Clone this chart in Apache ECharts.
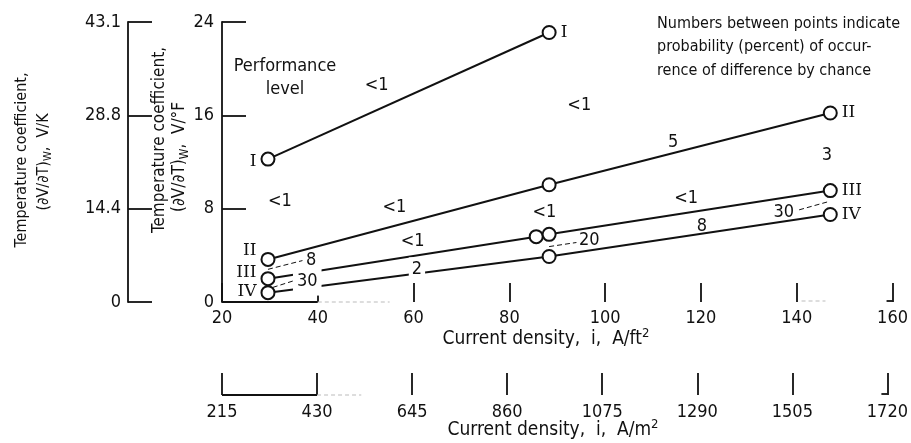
<!DOCTYPE html>
<html>
<head>
<meta charset="utf-8">
<script src="https://cdn.jsdelivr.net/npm/echarts@6/dist/echarts.min.js"></script>
<style>
  html, body { margin: 0; padding: 0; background: #fff; }
  #chart { width: 911px; height: 443px; }
</style>
</head>
<body>
<div id="chart"></div>
<script>
// Performance levels and their measured temperature coefficients
const levels = ['I', 'II', 'III', 'IV'];
// current density, A/ft^2
const densityI = [29.6, 88.3];
const densityII = [29.6, 88.3, 147.0];
const densityIII = [29.6, 85.6, 88.3, 147.0];
const densityIV = [29.6, 88.3, 147.0];
// temperature coefficient, V/°F
const coeffI = [12.25, 23.1];
const coeffII = [3.65, 10.05, 16.2];
const coeffIII = [2.0, 5.6, 5.8, 9.55];
const coeffIV = [0.8, 3.9, 7.5];

// tick labels of the secondary scales
const vkTickLabels = ['0', '14.4', '28.8', '43.1'];
const m2TickLabels = ['215', '430', '645', '860', '1075', '1290', '1505', '1720'];

// probability (percent) that a difference occurs by chance
const probText = ['<1', '<1', '<1', '<1', '<1', '<1', '<1', '5', '3', '8', '8', '30', '2', '20', '30'];

const FONT = "'DejaVu Sans Condensed','Liberation Sans Narrow','Arial Narrow',sans-serif";
const SERIF = "'DejaVu Serif','Liberation Serif',serif";
const INK = '#111';

// where each probability note sits, in (A/ft^2, V/°F) coordinates
const probAt = [
  [52.3, 18.6], [94.6, 16.9], [32.1, 8.6], [56.0, 8.1], [87.3, 7.7],
  [59.8, 5.2], [116.9, 8.9], [114.2, 13.7], [146.3, 12.6], [120.2, 6.5],
  [38.6, 3.55], [37.8, 1.75], [60.7, 2.8], [96.7, 5.3], [137.3, 7.7]
];
// notes that sit on a line and interrupt it
const knockOut = { 11: [7, 4, 3, 4], 12: [4, 3, 2, 3] };

// dashed leaders from a gap between two points to its note
const leaders = [
  [[29.6, 2.8], [36.8, 3.55]],
  [[30.6, 1.25], [35.2, 1.85]],
  [[88.3, 4.75], [94.0, 5.1]],
  [[140.5, 7.9], [146.6, 8.6]]
];

const labelShift = { I: [0, 2], II: [0, -9], III: [0, -6], IV: [0, -1] };

function buildPoints(xs, ys, name) {
  return xs.map(function (x, i) {
    const item = { value: [x, ys[i]] };
    if (i === 0 || i === xs.length - 1) {
      item.label = {
        show: true,
        position: i === 0 ? 'left' : 'right',
        distance: 4,
        offset: i === 0 ? labelShift[name] : [0, 0],
        formatter: name,
        fontFamily: SERIF,
        fontSize: 17,
        color: INK
      };
    }
    return item;
  });
}

const levelSeries = [
  [densityI, coeffI], [densityII, coeffII], [densityIII, coeffIII], [densityIV, coeffIV]
].map(function (pair, k) {
  return {
    type: 'line',
    name: levels[k],
    xAxisIndex: 0,
    yAxisIndex: 0,
    data: buildPoints(pair[0], pair[1], levels[k]),
    symbol: 'emptyCircle',
    symbolSize: 13,
    showSymbol: true,
    lineStyle: { color: INK, width: 2 },
    itemStyle: { color: INK, borderColor: INK, borderWidth: 1.8 },
    z: 3
  };
});

const leaderSeries = leaders.map(function (seg) {
  return {
    type: 'line',
    xAxisIndex: 0,
    yAxisIndex: 0,
    data: seg,
    symbol: 'none',
    silent: true,
    lineStyle: { color: INK, width: 1, type: [5, 3] },
    z: 2
  };
});

const probSeries = {
  type: 'scatter',
  xAxisIndex: 0,
  yAxisIndex: 0,
  symbolSize: 1,
  itemStyle: { color: 'rgba(0,0,0,0)', opacity: 1 },
  silent: true,
  z: 6,
  data: probText.map(function (t, i) {
    const item = { name: t, value: probAt[i] };
    if (knockOut[i]) {
      item.label = { backgroundColor: '#fff', padding: knockOut[i] };
    }
    return item;
  }),
  label: {
    show: true,
    position: 'inside',
    formatter: function (p) { return p.name; },
    fontFamily: FONT,
    fontSize: 18,
    color: INK
  }
};

const axisText = { fontFamily: FONT, fontSize: 18, color: INK };

const chart = echarts.init(document.getElementById('chart'), null, { renderer: 'canvas' });

chart.setOption({
  animation: false,
  backgroundColor: '#fff',
  grid: [
    { left: 222, right: 18, top: 22, height: 280 },
    { left: 222, right: 18, top: 394, height: 1 }
  ],
  xAxis: [
    {
      type: 'value', gridIndex: 0, min: 20, max: 160, interval: 20,
      axisLine: { show: false },
      axisTick: { show: true, inside: true, length: 19, lineStyle: { color: INK, width: 1.8 } },
      axisLabel: Object.assign({ margin: 7 }, axisText),
      splitLine: { show: false }
    },
    {
      type: 'value', gridIndex: 1, min: 215, max: 1720, interval: 215,
      axisLine: { show: false },
      axisTick: { show: true, inside: true, length: 22, lineStyle: { color: INK, width: 1.8 } },
      axisLabel: Object.assign({
        margin: 8,
        formatter: function (v, i) { return m2TickLabels[i]; }
      }, axisText),
      splitLine: { show: false }
    }
  ],
  yAxis: [
    {
      type: 'value', gridIndex: 0, min: 0, max: 24, interval: 8,
      axisLine: { show: true, lineStyle: { color: INK, width: 1.8 } },
      axisTick: { show: true, inside: true, length: 24, lineStyle: { color: INK, width: 1.8 } },
      axisLabel: Object.assign({ margin: 8 }, axisText),
      splitLine: { show: false }
    },
    {
      type: 'value', gridIndex: 0, position: 'left', offset: 94,
      min: 0, max: 43.2, interval: 14.4,
      axisLine: { show: true, lineStyle: { color: INK, width: 1.8 } },
      axisTick: { show: true, inside: true, length: 24, lineStyle: { color: INK, width: 1.8 } },
      axisLabel: Object.assign({
        margin: 7,
        formatter: function (v, i) { return vkTickLabels[i]; }
      }, axisText),
      splitLine: { show: false }
    },
    { type: 'value', gridIndex: 1, min: 0, max: 1, show: false }
  ],
  series: levelSeries.concat(leaderSeries, [probSeries])
});

// Axis base lines (only partly printed), axis titles and notes
const px = function (x, y) { return chart.convertToPixel({ xAxisIndex: 0, yAxisIndex: 0 }, [x, y]); };
const mx = function (x) { return chart.convertToPixel({ xAxisIndex: 1 }, x); };
const y0 = px(20, 0)[1];
const yM = chart.convertToPixel({ yAxisIndex: 2 }, 0);

function seg(x1, y1, x2, y2, faint) {
  return {
    type: 'line',
    shape: { x1: x1, y1: y1, x2: x2, y2: y2 },
    style: faint
      ? { stroke: '#bbb', lineWidth: 1, lineDash: [4, 3] }
      : { stroke: INK, lineWidth: 1.8 },
    silent: true,
    z: 10
  };
}

function richSet(size) {
  return {
    b: { fontFamily: FONT, fontSize: size, lineHeight: size + 4, color: INK },
    sub: { fontFamily: FONT, fontSize: Math.round(size * 0.68), lineHeight: Math.round(size * 0.68), verticalAlign: 'bottom', color: INK },
    sup: { fontFamily: FONT, fontSize: Math.round(size * 0.68), lineHeight: Math.round(size * 0.68), verticalAlign: 'top', color: INK }
  };
}

function vText(x, y, rich, size) {
  return {
    type: 'text', x: x, y: y, rotation: Math.PI / 2, silent: true,
    style: { text: rich, rich: richSet(size), align: 'center', verticalAlign: 'middle', fill: INK, font: size + 'px ' + FONT }
  };
}

function hText(x, y, rich, size) {
  return {
    type: 'text', x: x, y: y, silent: true,
    style: { text: rich, rich: richSet(size), align: 'center', verticalAlign: 'middle', fill: INK, font: size + 'px ' + FONT }
  };
}

const x20 = px(20, 0)[0], x40 = px(40, 0)[0], x160 = px(160, 0)[0];
const m215 = mx(215), m430 = mx(430), m1720 = mx(1720);

chart.setOption({
  graphic: [
    seg(x20, y0, x40, y0),
    seg(x40, y0, px(55, 0)[0], y0, true),
    seg(px(141, 0)[0], y0 - 1, px(146, 0)[0], y0 - 1, true),
    seg(x160 - 6, y0 - 1, x160, y0 - 1),
    seg(m215, yM, m430, yM),
    seg(m430, yM, mx(530), yM, true),
    seg(m1720 - 6, yM - 1, m1720, yM - 1),
    vText(22, 160, '{b|Temperature coefficient,}', 16),
    vText(44, 162, '{b|(∂V/∂T)}{sub|W}{b|,  V/K}', 16),
    vText(160, 140, '{b|Temperature coefficient,}', 17),
    vText(180, 157, '{b|(∂V/∂T)}{sub|W}{b|,  V/°F}', 17),
    hText(546, 339, '{b|Current density,  i,  A/ft}{sup|2}', 19),
    hText(553, 430, '{b|Current density,  i,  A/m}{sup|2}', 19),
    {
      type: 'text', x: 285, y: 78, silent: true,
      style: { text: 'Performance\nlevel', align: 'center', verticalAlign: 'middle', lineHeight: 23, fill: INK, font: '18px ' + FONT }
    },
    {
      type: 'text', x: 657, y: 47, silent: true,
      style: {
        text: 'Numbers between points indicate\nprobability (percent) of occur-\nrence of difference by chance',
        align: 'left', verticalAlign: 'middle', lineHeight: 23.5, fill: INK, font: '16px ' + FONT
      }
    }
  ]
});
</script>
</body>
</html>
